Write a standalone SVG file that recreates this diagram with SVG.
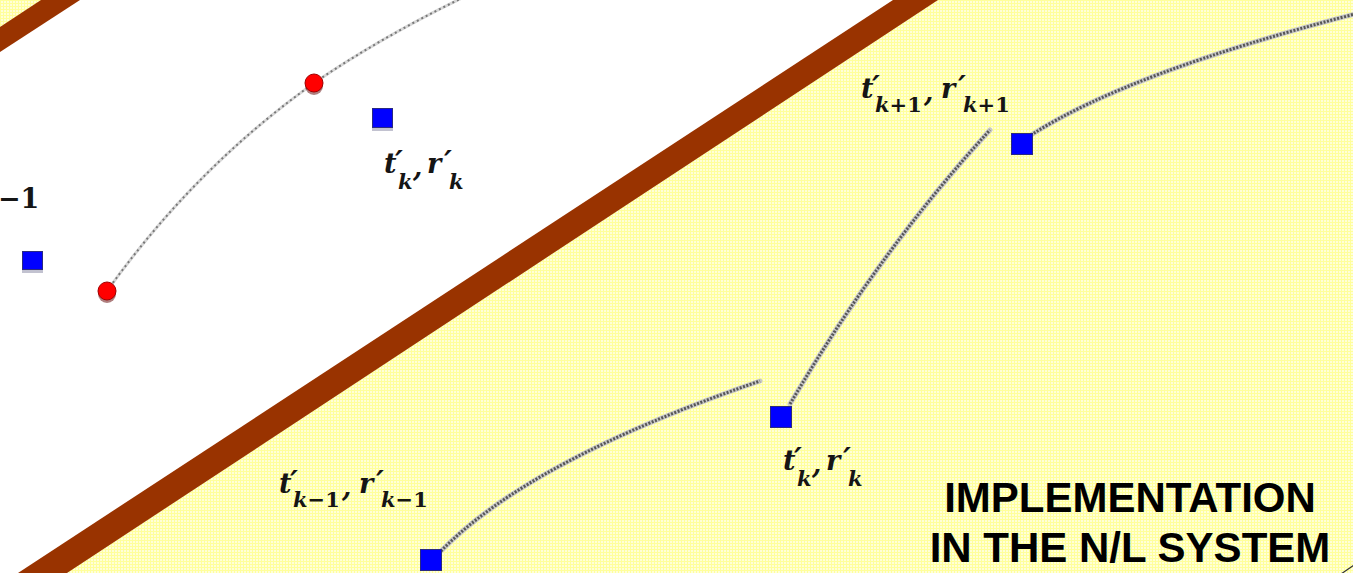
<svg xmlns="http://www.w3.org/2000/svg" width="1353" height="573" viewBox="0 0 1353 573">
<style>
.lbl{font-family:"DejaVu Serif","Liberation Serif",serif;font-style:italic;font-weight:bold;fill:#151515;font-size:27px}
.s{font-size:21px}
.p{font-size:30px}
.up{font-style:normal}
.title{font-family:"Liberation Sans",Arial,sans-serif;font-weight:bold;font-size:42px;text-anchor:middle;fill:#000}
.band{fill:#993300}
.sq{fill:#0000ff;stroke:#2a2a80;stroke-width:1}
.sqsh{fill:#9a9ab0;opacity:0.6}
.dot{fill:#ff0000;stroke:#a00000;stroke-width:1}
.dotsh{fill:#600000;opacity:0.5}
.dashbase{fill:none;stroke:#d8d8d8;stroke-width:3;stroke-linecap:round}
.dash{fill:none;stroke:#777;stroke-width:2;stroke-dasharray:2 3}
.solbase{fill:none;stroke:#c8c8c8;stroke-width:5;stroke-linecap:round}
.sol{fill:none;stroke:#555;stroke-width:3;stroke-dasharray:2 1.5}
</style>
<defs>
<pattern id="grid" width="3" height="3" patternUnits="userSpaceOnUse">
<rect width="3" height="3" fill="#ffffd8"/>
<rect width="3" height="1" fill="#ffff9c"/>
<rect width="1" height="3" fill="#ffff9c"/>
</pattern>
</defs>
<g id="background">
<rect width="1353" height="573" fill="url(#grid)"/>
<polygon points="0,40 60,0 915,0 42,573 0,573" fill="#ffffff"/>
<polygon class="band" points="0,27 41,0 80,0 0,52"/>
<polygon class="band" points="18,573 893,0 938,0 67,573"/>
</g>
<g id="connectors">
<path class="dashbase" d="M107,291 Q195,168 314,83 Q380,38 462,-2"/>
<path class="dash" d="M107,291 Q195,168 314,83 Q380,38 462,-2"/>
<path class="solbase" d="M1031,135 Q1130,72 1355,14"/>
<path class="sol" d="M1031,135 Q1130,72 1355,14"/>
<path class="solbase" d="M790,404 Q880,250 990,130"/>
<path class="sol" d="M790,404 Q880,250 990,130"/>
<path class="solbase" d="M441,551 Q530,460 760,381"/>
<path class="sol" d="M441,551 Q530,460 760,381"/>
<line x1="1341" y1="574" x2="1354" y2="565" stroke="#333" stroke-width="1.2"/>
</g>
<g id="dot1"><circle class="dotsh" cx="314" cy="86" r="9"/><circle class="dot" cx="314" cy="83" r="9"/></g>
<g id="dot2"><circle class="dotsh" cx="107" cy="294" r="9"/><circle class="dot" cx="107" cy="291" r="9"/></g>
<g id="sq1"><rect class="sqsh" x="22" y="254" width="21" height="19"/><rect class="sq" x="22.5" y="251.5" width="20" height="18"/></g>
<g id="sq2"><rect class="sqsh" x="372" y="111" width="21" height="20"/><rect class="sq" x="372.5" y="108.5" width="20" height="19"/></g>
<g id="sq3"><rect class="sq" x="1011.5" y="133.5" width="21" height="21"/></g>
<g id="sq4"><rect class="sq" x="770.5" y="406.5" width="21" height="21"/></g>
<g id="sq5"><rect class="sq" x="420.5" y="549.5" width="21" height="21"/></g>
<g id="label-left">
<text class="lbl up" x="-2" y="208" font-size="26">−1</text>
</g>
<g id="label-a">
<text class="lbl" x="384" y="173">t<tspan class="p" x="395" y="172">′</tspan><tspan class="s" x="398" y="189">k</tspan><tspan x="413" y="176">,</tspan><tspan x="427" y="173">r</tspan><tspan class="p" x="444" y="172">′</tspan><tspan class="s" x="449" y="189">k</tspan></text>
</g>
<g id="label-c">
<text class="lbl" x="783" y="470">t<tspan class="p" x="794" y="469">′</tspan><tspan class="s" x="797" y="486">k</tspan><tspan x="812" y="473">,</tspan><tspan x="826" y="470">r</tspan><tspan class="p" x="843" y="469">′</tspan><tspan class="s" x="848" y="486">k</tspan></text>
</g>
<g id="label-b">
<text class="lbl" x="861" y="98">t<tspan class="p" x="872" y="97">′</tspan><tspan class="s" x="875" y="112">k<tspan class="up">+1</tspan></tspan><tspan x="924" y="101">,</tspan><tspan x="941" y="98">r</tspan><tspan class="p" x="958" y="97">′</tspan><tspan class="s" x="963" y="112">k<tspan class="up">+1</tspan></tspan></text>
</g>
<g id="label-d">
<text class="lbl" x="279" y="493">t<tspan class="p" x="290" y="492">′</tspan><tspan class="s" x="293" y="507">k<tspan class="up">−1</tspan></tspan><tspan x="342" y="496">,</tspan><tspan x="359" y="493">r</tspan><tspan class="p" x="376" y="492">′</tspan><tspan class="s" x="381" y="507">k<tspan class="up">−1</tspan></tspan></text>
</g>
<g id="title">
<text class="title" x="1130" y="512">IMPLEMENTATION</text>
<text class="title" x="1130" y="562">IN THE N/L SYSTEM</text>
</g>
</svg>
